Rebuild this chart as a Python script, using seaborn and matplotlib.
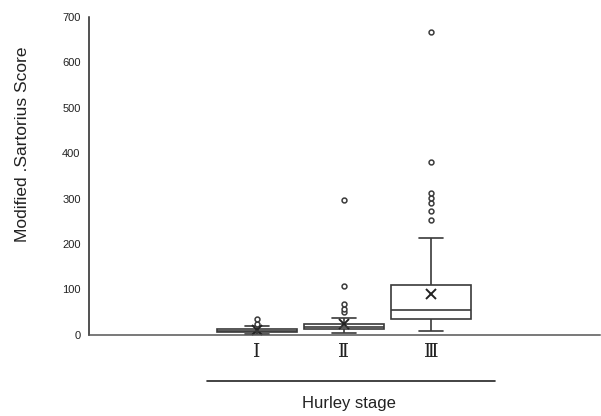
import matplotlib
matplotlib.use("Agg")
import matplotlib.pyplot as plt
from matplotlib.lines import Line2D
import pandas as pd
import seaborn as sns

# Hurley stages (x categories)
stages = ["Ⅰ", "Ⅱ", "Ⅲ"]

stage1 = [2, 3, 5, 6, 7, 8, 9, 10, 11, 13, 19, 24, 35]
stage2 = [5, 7, 9, 10, 11, 12, 13, 14, 15, 15, 16, 16, 17,
          18, 19, 20, 21, 22, 24, 37, 50, 58, 68, 107, 297]
stage3 = [9, 14, 18, 22, 26, 29, 31, 33, 35, 38, 41, 43, 45, 48, 50, 52, 54,
          58, 63, 69, 75, 84, 95, 104, 110, 213,
          253, 273, 290, 301, 312, 380, 667]

# mean markers (x) as shown on the chart
mean_scores = [11, 23, 90]

yticks = [0, 100, 200, 300, 400, 500, 600, 700]

df = pd.DataFrame({
    "stage": [stages[0]] * len(stage1) + [stages[1]] * len(stage2) + [stages[2]] * len(stage3),
    "score": stage1 + stage2 + stage3,
})

sns.set_style("white")
plt.rcParams["font.family"] = ["Liberation Sans", "DejaVu Sans"]

fig = plt.figure(figsize=(6.01, 4.16), dpi=100)
ax = fig.add_axes([0.148, 0.195, 0.85, 0.764])

line_c = "#3a3a3a"
sns.boxplot(data=df, x="stage", y="score", order=stages, ax=ax,
            width=0.92, color="white", linecolor=line_c, linewidth=1.2,
            capwidths=0.28,
            flierprops=dict(marker="o", markersize=3.5, markerfacecolor="white",
                            markeredgecolor=line_c, markeredgewidth=1.1))

sns.pointplot(x=stages, y=mean_scores, order=stages, ax=ax,
              linestyle="none", marker="x", markersize=7, markeredgewidth=1.4,
              color="#222222", errorbar=None)

ax.set_xlim(-1.93, 3.94)
ax.set_ylim(0, 700)
ax.set_yticks(yticks)
ax.set_yticklabels([str(t) for t in yticks], fontsize=8, color="#222222")
ax.tick_params(axis="y", length=0, pad=6)
ax.tick_params(axis="x", length=0, pad=6)
for lab in ax.get_xticklabels():
    lab.set_family(["DejaVu Serif", "DejaVu Sans"])
    lab.set_fontsize(13.5)
    lab.set_color("#222222")
ax.set_xlabel("")
ax.set_ylabel("")

sns.despine(ax=ax)
ax.spines["left"].set_color("#222222")
ax.spines["bottom"].set_color("#555555")
ax.spines["left"].set_linewidth(1.1)
ax.spines["bottom"].set_linewidth(1.1)

# y label and bottom axis caption
fig.text(0.037, 0.654, "Modified .Sartorius Score", rotation=90,
         ha="center", va="center", fontsize=12.5, color="#222222")
fig.add_artist(Line2D([0.344, 0.824], [0.084, 0.084], color="#222222",
                      linewidth=1.2, transform=fig.transFigure))
fig.text(0.581, 0.029, "Hurley stage", ha="center", va="center",
         fontsize=12, color="#222222")

fig.savefig("out.png", dpi=100)
